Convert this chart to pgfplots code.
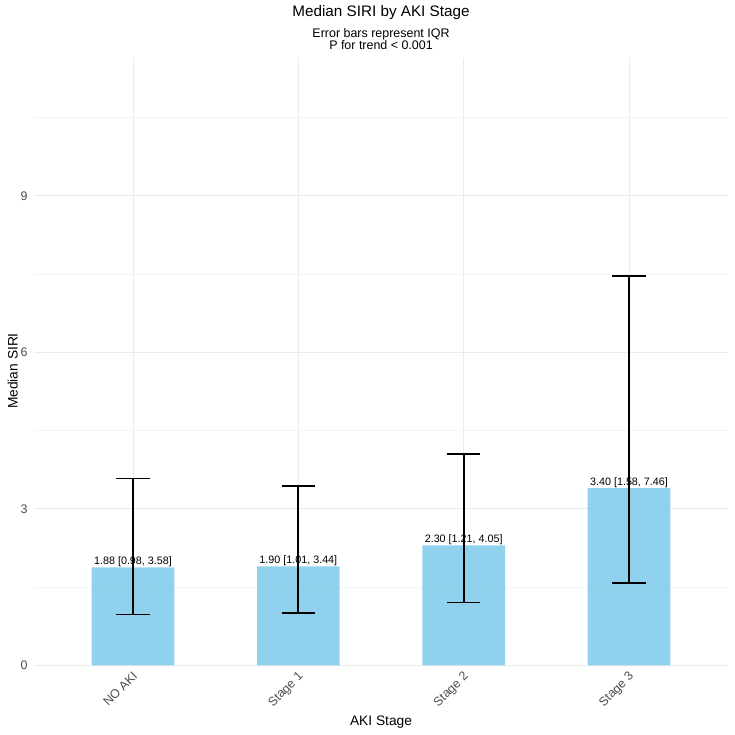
\documentclass[border=0pt]{standalone}
\usepackage{pgfplots}
\usepackage{pgfplotstable}
\pgfplotsset{compat=1.18}
\usepackage{fontspec}
\setmainfont{Liberation Sans}

\definecolor{barfill}{RGB}{135,206,235}
\definecolor{gridmajor}{RGB}{235,235,235}
\definecolor{gridminor}{RGB}{244,244,244}
\definecolor{ticktext}{RGB}{77,77,77}

% median SIRI with interquartile range per AKI stage
\pgfplotstableread[col sep=semicolon]{
x;med;lo;hi;lab
0;1.88;0.98;3.58;1.88 [0.98, 3.58]
1;1.90;1.01;3.44;1.90 [1.01, 3.44]
2;2.30;1.21;4.05;2.30 [1.21, 4.05]
3;3.40;1.58;7.46;3.40 [1.58, 7.46]
}\siri

\begin{document}
\begin{tikzpicture}
\path[use as bounding box] (0,0) rectangle (735bp,735bp);
\begin{axis}[
  at={(33.8bp,69.5bp)}, anchor=south west,
  scale only axis,
  width=694.4bp, height=607.5bp,
  xmin=-0.6, xmax=3.6,
  ymin=0, ymax=11.64,
  axis line style={draw=none},
  major tick length=0pt, minor tick length=0pt,
  xtick={0,1,2,3},
  xticklabels={NO AKI, Stage 1, Stage 2, Stage 3},
  ytick={0,3,6,9},
  minor ytick={1.5,4.5,7.5,10.5},
  grid=major,
  ymajorgrids, yminorgrids, xmajorgrids,
  major grid style={draw=gridmajor, line width=1bp},
  minor grid style={draw=gridminor, line width=0.6bp},
  /pgf/number format/assume math mode=true,
  ticklabel style={font=\fontsize{12.5}{14}\selectfont, text=ticktext},
  yticklabel style={anchor=east, inner sep=0pt, xshift=-6bp},
  xticklabel style={anchor=north east, inner sep=0pt, xshift=-1bp, yshift=-5bp, rotate=45},
  clip=false,
]
% bars at the median
\addplot[ybar, bar width=0.5, fill=barfill, fill opacity=0.92, draw=none]
  table[x=x, y=med] {\siri};
% value labels above each bar
\addplot[draw=none, mark=none,
  nodes near coords, point meta=explicit symbolic,
  every node near coord/.style={anchor=base, inner sep=0pt, yshift=3bp,
    font=\fontsize{10.8}{12}\selectfont, text=black}]
  table[x=x, y=med, meta=lab] {\siri};
% IQR error bars
\addplot[draw=none, mark=none,
  error bars/.cd, y dir=both, y explicit,
  error mark=-, error bar style={line width=1.7bp, black},
  error mark options={line width=1.6bp, mark size=16.7bp, black, rotate=90}]
  table[x=x, y=med,
        y error plus expr=\thisrow{hi}-\thisrow{med},
        y error minus expr=\thisrow{med}-\thisrow{lo}] {\siri};
\end{axis}
\node[anchor=base, font=\fontsize{15.3}{18}\selectfont] at (381bp,718bp) {Median SIRI by AKI Stage};
\node[anchor=base, font=\fontsize{12.5}{14}\selectfont] at (381bp,697.7bp) {Error bars represent IQR};
\node[anchor=base, font=\fontsize{12.5}{14}\selectfont] at (381bp,685bp) {P for trend < 0.001};
\node[anchor=base, font=\fontsize{13.8}{16}\selectfont] at (381bp,10bp) {AKI Stage};
\node[anchor=base, rotate=90, font=\fontsize{13.8}{16}\selectfont] at (17.5bp,364bp) {Median SIRI};
\end{tikzpicture}
\end{document}
